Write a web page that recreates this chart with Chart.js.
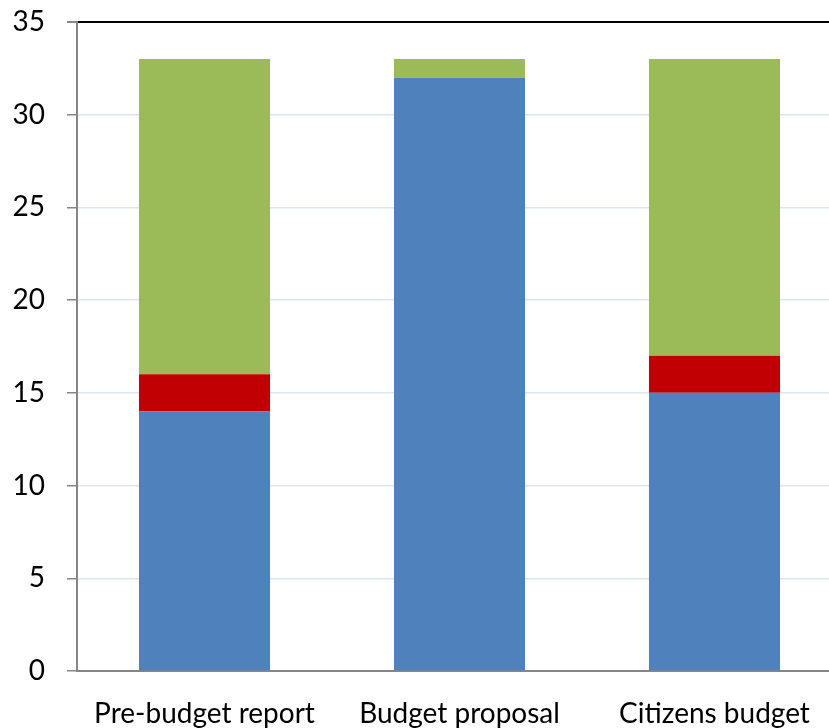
<!DOCTYPE html>
<html>
<head>
<meta charset="utf-8">
<script src="https://cdn.jsdelivr.net/npm/chart.js@4/dist/chart.umd.min.js"></script>
<style>
  html, body { margin: 0; padding: 0; background: #fff; overflow: hidden; }
  #wrap { width: 860px; height: 728px; }
</style>
</head>
<body>
<div id="wrap"><canvas id="budgetChart" width="860" height="728"></canvas></div>
<script>
const categories = ["Pre-budget report", "Budget proposal", "Citizens budget"];
const blueValues = [14, 32, 15];
const redValues = [2, 0, 2];
const greenValues = [17, 1, 16];
const yTicks = [0, 5, 10, 15, 20, 25, 30, 35];

const axisGray = "#868686";
const font = { family: "Lato", size: 28 };

const ctx = document.getElementById("budgetChart").getContext("2d");
const budgetChart = new Chart(ctx, {
  type: "bar",
  data: {
    labels: categories,
    datasets: [
      { data: blueValues, backgroundColor: "#4f81bd" },
      { data: redValues, backgroundColor: "#c00000" },
      { data: greenValues, backgroundColor: "#9bbb59" },
    ].map((d) => ({ ...d, borderWidth: 0, barPercentage: 0.514, categoryPercentage: 1.0 })),
  },
  options: {
    responsive: false,
    animation: false,
    layout: { padding: { top: 22, right: 18, left: 0, bottom: 0 } },
    scales: {
      x: {
        stacked: true,
        grid: { display: false, drawTicks: false },
        border: { display: true, color: axisGray, width: 2 },
        ticks: { color: "#000", font: font, padding: 26, maxRotation: 0 },
        afterFit: (s) => { s.height = 57; s.paddingLeft = 0; s.paddingRight = 0; },
      },
      y: {
        stacked: true,
        min: 0,
        max: 35,
        afterBuildTicks: (s) => { s.ticks = yTicks.map((v) => ({ value: v })); },
        grid: {
          color: (c) => (c.tick && c.tick.value === 35 ? "#000" : "#dce6f2"),
          lineWidth: (c) => (c.tick && c.tick.value === 35 ? 2 : 1.5),
          tickColor: axisGray,
          tickLength: 10,
        },
        border: { display: true, color: axisGray, width: 2 },
        ticks: { color: "#000", font: font, padding: 22 },
        afterFit: (s) => { s.width = 77; s.paddingTop = 0; s.paddingBottom = 0; },
      },
    },
    plugins: {
      legend: { display: false },
      tooltip: { enabled: false },
    },
  },
});
</script>
</body>
</html>
